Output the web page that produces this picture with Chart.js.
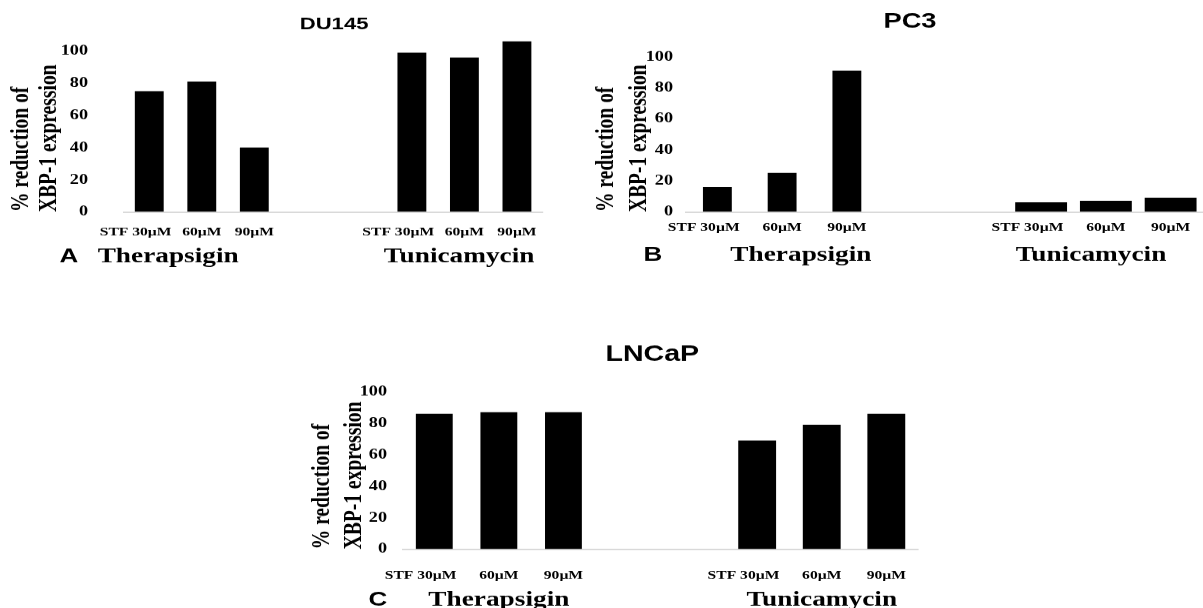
<!DOCTYPE html>
<html>
<head>
<meta charset="utf-8">
<title>XBP-1 expression</title>
<script src="https://cdn.jsdelivr.net/npm/chart.js@4.4.1/dist/chart.umd.min.js"></script>
<style>
  html, body { margin: 0; padding: 0; background: #fff; }
  body { width: 1203px; height: 608px; overflow: hidden; position: relative; }
  canvas { position: absolute; }
</style>
</head>
<body>
<canvas id="du145"></canvas>
<canvas id="pc3"></canvas>
<canvas id="lncap"></canvas>
<script>
const doses = ['STF 30µM', '60µM', '90µM'];
const drugs = ['Therapsigin', 'Tunicamycin'];
const yTicks = [0, 20, 40, 60, 80, 100];

const du145Therapsigin = [75, 81, 40];
const du145Tunicamycin = [99, 96, 106];
const pc3Therapsigin = [16, 25, 91];
const pc3Tunicamycin = [6, 7, 9];
const lncapTherapsigin = [86, 87, 87];
const lncapTunicamycin = [69, 79, 86];

const STRETCH = 1.3; // the source figure is stretched sideways
const GAP = 2;       // empty slots between the two drug groups
const SERIF = '"Liberation Serif", "Times New Roman", serif';
const SANS = '"Liberation Sans", Arial, sans-serif';

// page coordinates of each panel
const panels = [
  { id: 'du145', title: 'DU145', letter: 'A', left: 0, top: 0, width: 668, height: 270,
    plotLeft: 123, plotRight: 543, y100: 48, base: 212, tickRight: 88,
    titleSize: 17, titleY: 21, yTitleX: [21, 49.5], bars: [28, 28],
    groupAt: [0.36, 5.9], letterX: 69, baseline: 262, labelY: 230,
    values: [du145Therapsigin, du145Tunicamycin] },
  { id: 'pc3', title: 'PC3', letter: 'B', left: 585, top: 0, width: 650, height: 270,
    plotLeft: 685, plotRight: 1203, y100: 57, base: 212, tickRight: 673,
    titleSize: 21, titleY: 22, yTitleX: [606, 639], bars: [28, 51],
    groupAt: [1.29, 5.77], letterX: 653, baseline: 261, labelY: 226,
    values: [pc3Therapsigin, pc3Tunicamycin] },
  { id: 'lncap', title: 'LNCaP', letter: 'C', left: 300, top: 330, width: 704, height: 278,
    plotLeft: 402, plotRight: 918, y100: 392, base: 549, tickRight: 387,
    titleSize: 22, titleY: 355, yTitleX: [322, 354.5], bars: [36, 37],
    groupAt: [1, 6], letterX: 378, baseline: 605, labelY: 573,
    values: [lncapTherapsigin, lncapTunicamycin] }
];

const panelText = {
  id: 'panelText',
  afterDraw(chart, args, opts) {
    const { ctx } = chart;
    const x = chart.scales.x;
    ctx.save();
    ctx.fillStyle = '#000';
    ctx.textBaseline = 'alphabetic';
    ctx.textAlign = 'center';
    ctx.font = 'bold 20px ' + SANS;
    ctx.fillText(opts.letter, opts.letterX, opts.baseline);
    ctx.font = 'bold 21px ' + SERIF;
    drugs.forEach((d, i) => ctx.fillText(d, x.getPixelForValue(opts.groupAt[i]), opts.baseline));
    ctx.restore();
  }
};

const slots = [...doses, ...Array(GAP).fill(''), ...doses];
const empty = n => Array(n).fill(null);

function makePanel(p) {
  const canvas = document.getElementById(p.id);
  const S = STRETCH;
  canvas.width = Math.round(p.width / S);
  canvas.height = p.height;
  canvas.style.left = p.left + 'px';
  canvas.style.top = p.top + 'px';

  const baseRel = p.base - p.top;
  const plotTopRel = baseRel - 1.1 * (p.base - p.y100);
  const titleLh = 1.2 * p.titleSize;
  const titleYRel = p.titleY - p.top;
  const yLh = (p.yTitleX[1] - p.yTitleX[0]) / S;
  const yFont = 19.5;
  const rightGap = (p.left + p.width - p.plotRight) / S;

  const [thap, tuni] = p.values;

  new Chart(canvas, {
    type: 'bar',
    data: {
      labels: slots,
      datasets: [
        { label: drugs[0], data: [...thap, ...empty(GAP + doses.length)],
          backgroundColor: '#000', borderWidth: 0, grouped: false, barThickness: p.bars[0] / S },
        { label: drugs[1], data: [...empty(GAP + doses.length), ...tuni],
          backgroundColor: '#000', borderWidth: 0, grouped: false, barThickness: p.bars[1] / S }
      ]
    },
    options: {
      responsive: false,
      animation: false,
      devicePixelRatio: S,
      layout: { padding: 0 },
      plugins: {
        legend: { display: false },
        tooltip: { enabled: false },
        title: {
          display: true, text: p.title, color: '#000', fullSize: true,
          font: { family: SANS, weight: 'bold', size: p.titleSize, lineHeight: 1.2 },
          padding: { top: titleYRel - titleLh / 2, bottom: Math.max(0, plotTopRel - titleYRel - titleLh / 2) }
        },
        panelText: {
          letter: p.letter, letterX: (p.letterX - p.left) / S,
          baseline: p.baseline - p.top, groupAt: p.groupAt
        }
      },
      scales: {
        x: {
          offset: true,
          grid: { display: false },
          border: { display: false },
          ticks: {
            autoSkip: false, maxRotation: 0, minRotation: 0, color: '#000',
            padding: Math.max(0, p.labelY - p.base - 13.2),
            font: { family: SERIF, weight: 'bold', size: 12 },
            callback(v) {
              const l = this.getLabelForValue(v);
              return l.startsWith('STF') ? l + '\u00a0'.repeat(7) : l;
            }
          },
          afterFit(s) { s.height = p.height - baseRel; }
        },
        y: {
          min: 0, max: 110,
          afterBuildTicks(s) { s.ticks = yTicks.map(v => ({ value: v })); },
          grid: {
            drawTicks: false, lineWidth: 1.5,
            color: c => (c.tick && c.tick.value === 0 ? '#d9d9d9' : 'rgba(0,0,0,0)')
          },
          border: { display: false },
          ticks: {
            color: '#000', padding: (p.plotLeft - p.tickRight) / S,
            font: { family: SERIF, weight: 'bold', size: 14 }
          },
          title: {
            display: true, align: 'start', color: '#000',
            text: ['% reduction of', 'XBP-1 expression'],
            font: { family: SERIF, weight: 'bold', size: yFont, lineHeight: yLh / yFont },
            padding: { top: (p.yTitleX[0] - p.left) / S - yLh / 2, bottom: 0 }
          },
          afterFit(s) { s.width = (p.plotLeft - p.left) / S; }
        },
        // empty right-hand strip so the title stays centred on the whole panel
        margin: {
          position: 'right', display: true,
          grid: { display: false }, border: { display: false }, ticks: { display: false },
          afterFit(s) { s.width = rightGap; }
        }
      }
    },
    plugins: [panelText]
  });

  canvas.style.width = p.width + 'px';
  canvas.style.height = p.height + 'px';
}

panels.forEach(makePanel);
</script>
</body>
</html>
